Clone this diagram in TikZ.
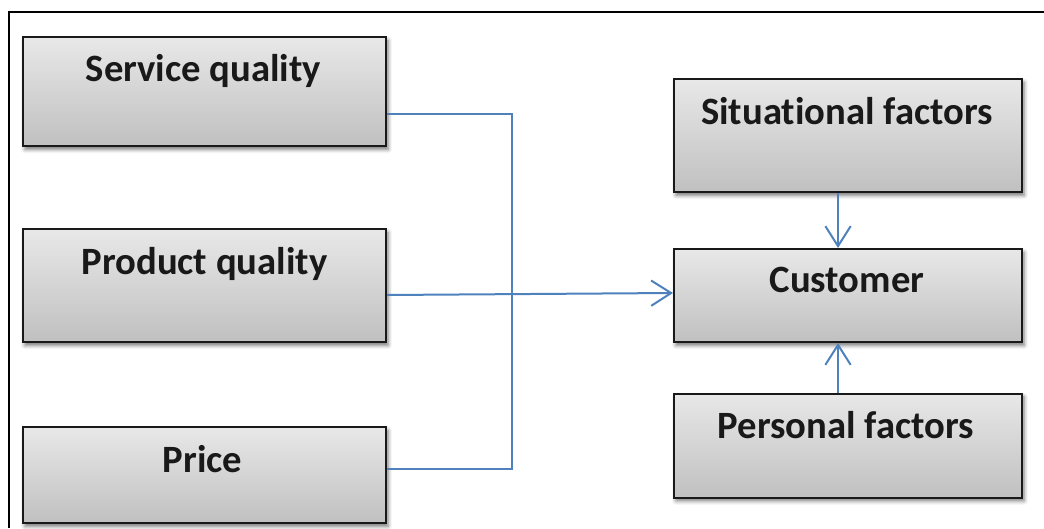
\documentclass[tikz,border=0pt]{standalone}
\usepackage{fontspec}
\setmainfont{Carlito}[Ligatures=NoCommon]
\usetikzlibrary{arrows.meta,shadows.blur,calc}
\definecolor{conncol}{HTML}{4F81BD}
\definecolor{boxtop}{HTML}{E8E8E8}
\definecolor{boxbot}{HTML}{C0C0C0}
\begin{document}
\begin{tikzpicture}[x=0.75pt,y=-0.75pt,
  factorbox/.style={draw=black!90, line width=1.5pt, top color=boxtop, bottom color=boxbot,
    inner sep=0pt, blur shadow={shadow xshift=1.5pt, shadow yshift=-2.5pt, shadow blur radius=3pt, shadow opacity=55}},
  boxlabel/.style={anchor=base, font=\fontsize{29}{34}\selectfont\bfseries, inner sep=0pt, text=black!90},
  conn/.style={draw=conncol, line width=1.5pt},
  arr/.style={conn, -{Straight Barb[length=15pt,width=19pt,line width=1.5pt]}}]
\useasboundingbox (0,0) rectangle (1044,528);
% outer frame
\draw[line width=1pt] (1044,12) -- (9,12) -- (9,528);
% boxes
\node[factorbox, minimum width=272.25pt, minimum height=81.75pt] (sq) at (204.5,91.5) {};
\node[factorbox, minimum width=272.25pt, minimum height=84.75pt] (pq) at (204.5,285.5) {};
\node[factorbox, minimum width=272.25pt, minimum height=72pt] (pr) at (204.5,475) {};
\node[factorbox, minimum width=261pt, minimum height=84.75pt] (sf) at (848,135.5) {};
\node[factorbox, minimum width=261pt, minimum height=69.75pt] (cu) at (848,295.5) {};
\node[factorbox, minimum width=261pt, minimum height=78pt] (pf) at (848,445.5) {};
% labels
\node[boxlabel] (sqt) at ($(sq.north)+(-1,45)$) {Service quality};
\node[boxlabel] (pqt) at ($(pq.north)+(0,46)$) {Product quality};
\node[boxlabel] (prt) at ($(pr.north)+(-2,46)$) {Price};
\node[boxlabel] (sft) at ($(sf.north)+(-1,46)$) {Situational factors};
\node[boxlabel] (cut) at ($(cu.north)+(-1,44)$) {Customer};
\node[boxlabel] (pft) at ($(pf.north)+(-2,46)$) {Personal factors};
% connectors
\coordinate (t1) at (512,114);
\coordinate (t2) at (512,469);
\draw[conn] (sq.east |- t1) -- (t1) -- (t2) -- (pr.east |- t2);
\draw[arr] ($(pq.east)+(0,9.5)$) -- ($(cu.west)+(0,-2.5)$);
\draw[arr] ($(sf.south)+(-10,0)$) -- ($(cu.north)+(-10,0)$);
\draw[arr] ($(pf.north)+(-10,0)$) -- ($(cu.south)+(-10,0)$);
\end{tikzpicture}
\end{document}
